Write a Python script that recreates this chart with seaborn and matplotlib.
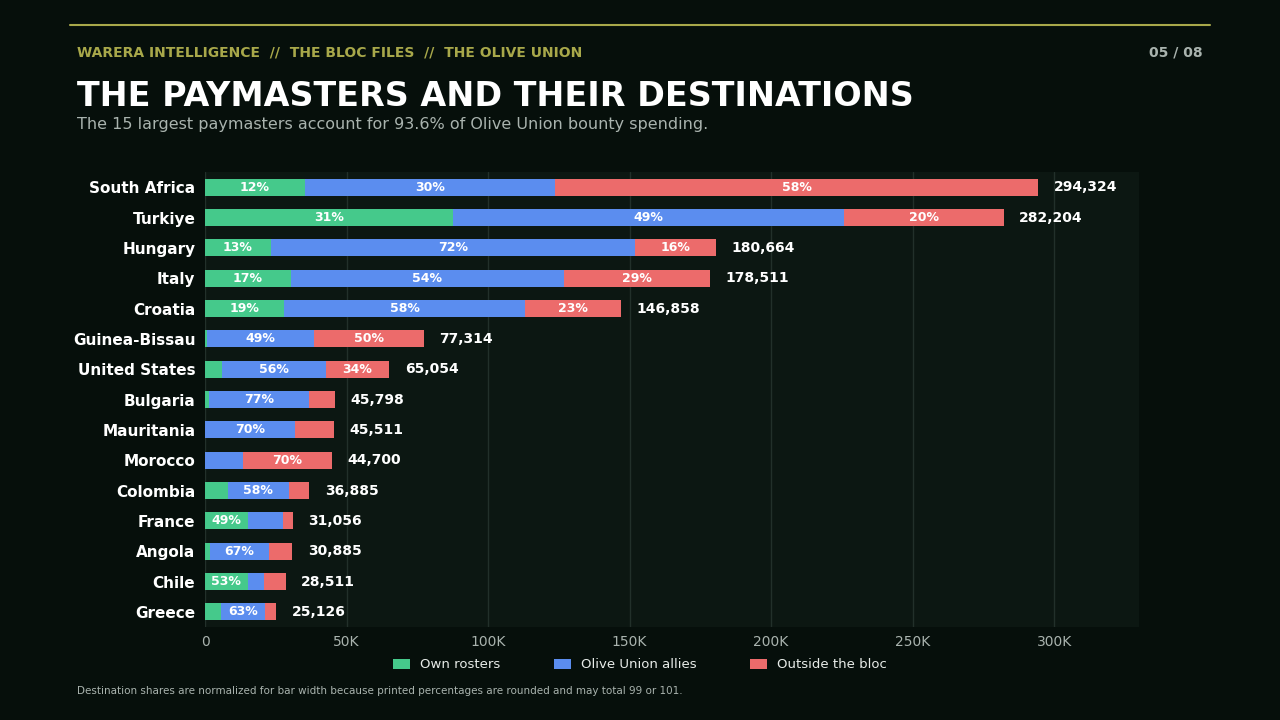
import matplotlib
matplotlib.use("Agg")
import matplotlib.pyplot as plt
import seaborn as sns
import numpy as np

countries = ["South Africa","Turkiye","Hungary","Italy","Croatia","Guinea-Bissau","United States",
             "Bulgaria","Mauritania","Morocco","Colombia","France","Angola","Chile","Greece"]
totals = [294324,282204,180664,178511,146858,77314,65054,45798,45511,44700,36885,31056,30885,28511,25126]
own    = [12,31,13,17,19,1,9,3,0,0,22,49,6,53,22]
allies = [30,49,72,54,58,49,56,77,70,30,58,40,67,20,63]
outside= [58,20,16,29,23,50,34,20,30,70,20,11,27,27,15]
series = ["Own rosters","Olive Union allies","Outside the bloc"]
colors = ["#45c98b","#5b8def","#ec6b6b"]

sns.set_theme(style="dark")
BG = "#060f0b"; AX = "#0c1712"
plt.rcParams['font.family'] = ['DejaVu Sans']
fig = plt.figure(figsize=(12.8,7.2), dpi=100, facecolor=BG)
ax = fig.add_axes([205/1280, 1-627/720, 934/1280, 455/720])
ax.set_facecolor(AX)

y = np.arange(len(countries))
left = np.zeros(len(countries))
shares = [own, allies, outside]
for s, c, name in zip(shares, colors, series):
    s = np.array(s, float)
    tot = np.array(own)+np.array(allies)+np.array(outside)
    w = np.array(totals)*s/tot
    ax.barh(y, w, left=left, height=0.55, color=c, label=name, linewidth=0)
    for i in range(len(y)):
        if w[i] >= 14000:
            ax.text(left[i]+w[i]/2, y[i], f"{int(s[i])}%", ha="center", va="center",
                    color="white", fontsize=9, fontweight="bold")
    left += w
for i, t in enumerate(totals):
    ax.text(t+5500, y[i], f"{t:,}", va="center", ha="left", color="white", fontsize=10, fontweight="bold")

ax.set_xlim(0,330000)
ax.set_ylim(len(countries)-0.5, -0.5)
ax.set_yticks(y)
ax.set_yticklabels(countries, color="white", fontsize=11, fontweight="bold")
xt = [0,50000,100000,150000,200000,250000,300000]
ax.set_xticks(xt)
ax.set_xticklabels(["0","50K","100K","150K","200K","250K","300K"], color="#a9b3ae", fontsize=10)
ax.grid(axis="x", color="#22302a", linewidth=1)
ax.grid(axis="y", visible=False)
for sp in ax.spines.values(): sp.set_visible(False)
ax.tick_params(axis="y", length=3, color="#888", pad=4)
ax.tick_params(axis="x", length=0, pad=6)
ax.set_axisbelow(True)

leg = fig.legend(loc="center", bbox_to_anchor=(0.5, 1-665/720), ncol=3, frameon=False,
                 fontsize=9.5, handlelength=1.3, handleheight=0.7, columnspacing=4)
for t in leg.get_texts(): t.set_color("#e8ece9")

fig.add_artist(plt.Line2D([70/1280,1210/1280],[1-25/720,1-25/720], color="#a8a84a", linewidth=1.5))
fig.text(77/1280, 1-53/720, "WARERA INTELLIGENCE  //  THE BLOC FILES  //  THE OLIVE UNION",
         color="#a8a84a", fontsize=10, fontweight="bold", va="center")
fig.text(1203/1280, 1-53/720, "05 / 08", color="#a9b3ae", fontsize=10, fontweight="bold", va="center", ha="right")
fig.text(77/1280, 1-97/720, "THE PAYMASTERS AND THEIR DESTINATIONS", color="white",
         fontsize=24, fontweight="bold", va="center")
fig.text(77/1280, 1-125/720, "The 15 largest paymasters account for 93.6% of Olive Union bounty spending.",
         color="#a9b3ae", fontsize=11.5, va="center")
fig.text(77/1280, 1-691/720, "Destination shares are normalized for bar width because printed percentages are rounded and may total 99 or 101.",
         color="#a9b3ae", fontsize=7.5, va="center")
fig.savefig("out.png", dpi=100, facecolor=BG)
